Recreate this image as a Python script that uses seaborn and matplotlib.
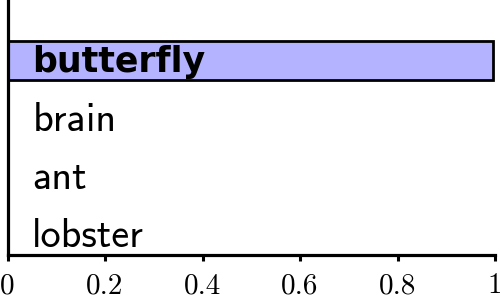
import seaborn as sns
import matplotlib.pyplot as plt

animals = ["butterfly", "brain", "ant", "lobster"]
scores = [0.995, 0.0, 0.0, 0.0]
highlight = "butterfly"
xticks = [0, 0.2, 0.4, 0.6, 0.8, 1.0]
xtick_labels = ["0", "0.2", "0.4", "0.6", "0.8", "1"]

sns.set_style("white")
plt.rcParams['axes.formatter.use_mathtext'] = True
plt.rcParams['text.color'] = 'black'

fig = plt.figure(figsize=(5, 2.99), dpi=100)
ax = fig.add_axes([0.015, 0.147, 0.975, 0.853])

sns.barplot(x=scores, y=animals, orient="h", color="#b3b3ff", saturation=1,
            edgecolor="black", linewidth=2.0, width=0.67, ax=ax)

ax.set_xlim(0, 1)
ax.set_ylim(3.345, -1.05)
ax.set_yticks([])
ax.set_xticks(xticks)
ax.set_xticklabels(xtick_labels, family="cmr10", fontsize=21, color="black")
ax.tick_params(axis="x", direction="out", length=4, width=2.2, pad=9,
               bottom=True, colors="black")
for side in ["top", "right"]:
    ax.spines[side].set_visible(False)
for side in ["left", "bottom"]:
    ax.spines[side].set_linewidth(2.3)
    ax.spines[side].set_color("black")

# category names written inside the axes
for i, name in enumerate(animals):
    if name == highlight:
        ax.text(0.051, i - 0.04, name, family="DejaVu Sans", fontweight="bold",
                fontsize=25, va="center_baseline", ha="left", color="black")
    else:
        ax.text(0.051, i - 0.04, name, family="cmss10", fontsize=29,
                va="center_baseline", ha="left", color="black")

ax.set_xlabel("")
ax.set_ylabel("")
fig.savefig("out.png", dpi=100)
